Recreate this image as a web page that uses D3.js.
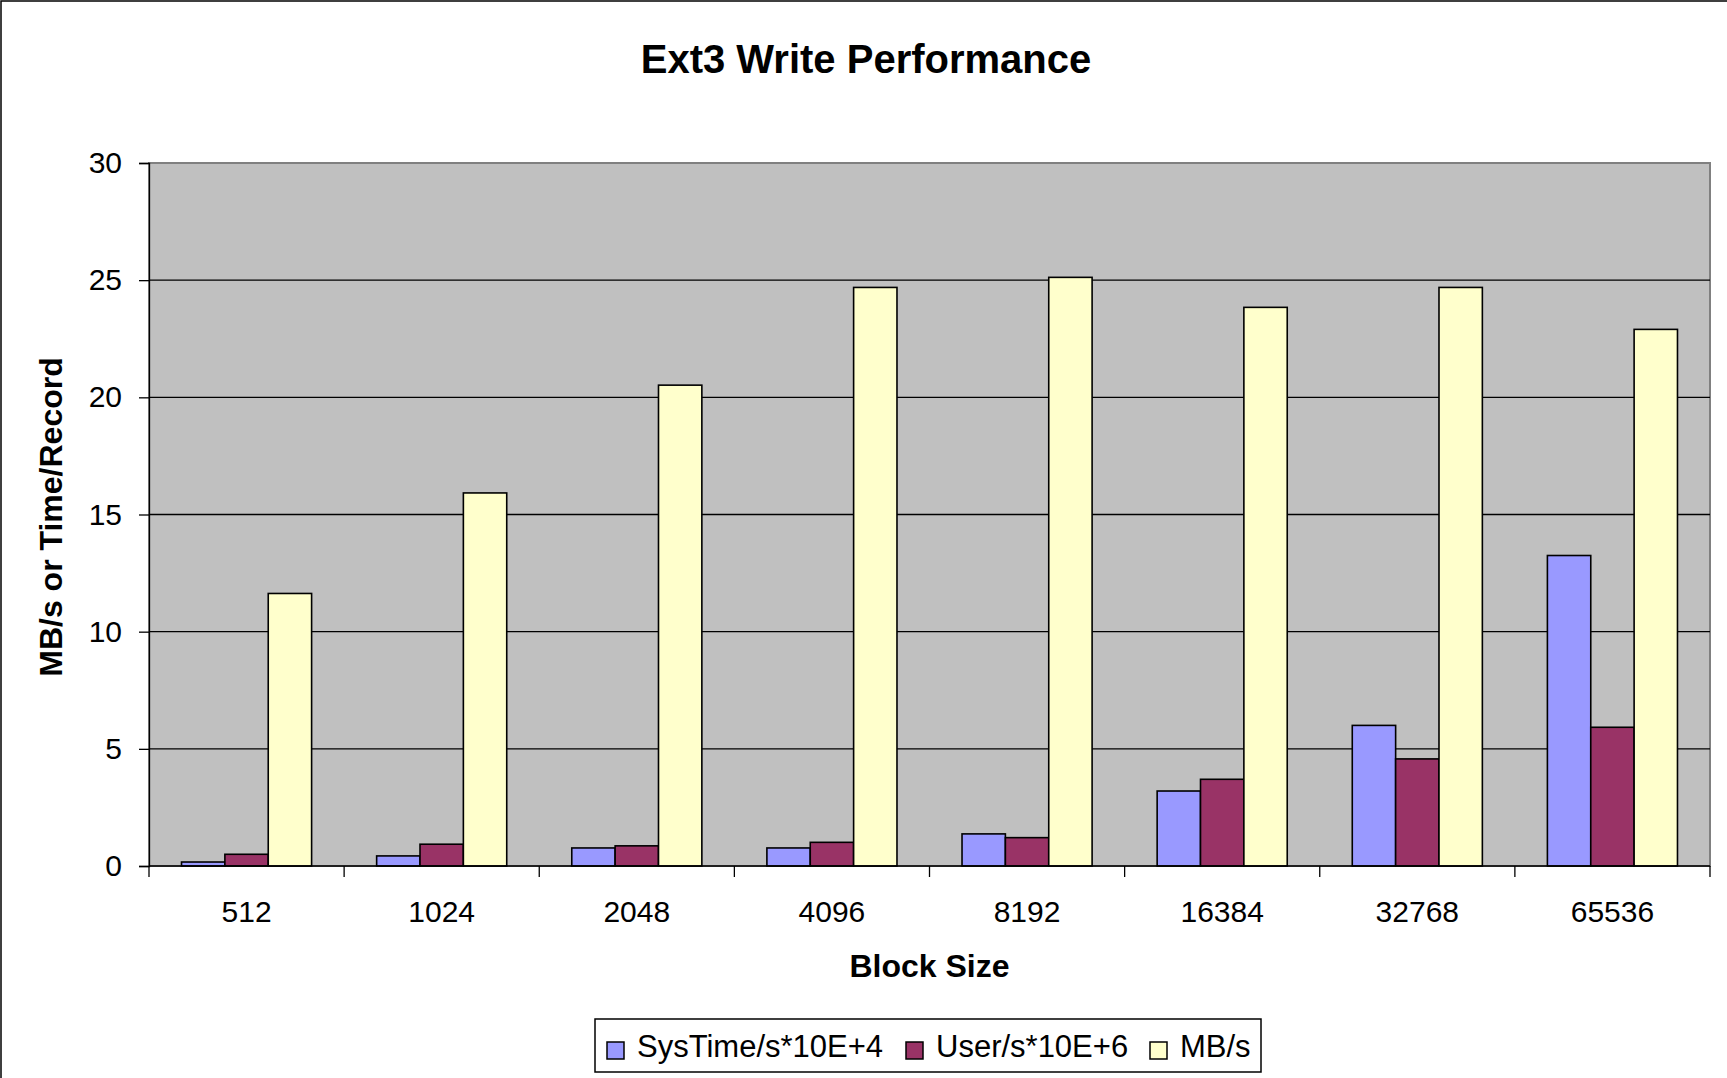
<!DOCTYPE html>
<html>
<head>
<meta charset="utf-8">
<script src="https://cdn.jsdelivr.net/npm/d3@7"></script>
<style>
  html, body { margin: 0; padding: 0; background: #fff; }
  svg { display: block; font-family: "Liberation Sans", Arial, sans-serif; }
</style>
</head>
<body>
<svg id="chart" width="1727" height="1078"></svg>
<script>
// Ext3 write performance
const blockSizes = ['512', '1024', '2048', '4096', '8192', '16384', '32768', '65536'];
const sysTime = [0.17, 0.43, 0.77, 0.77, 1.37, 3.2, 6.0, 13.25];
const userTime = [0.5, 0.93, 0.86, 1.01, 1.21, 3.7, 4.57, 5.92];
const mbPerSec = [11.63, 15.92, 20.52, 24.69, 25.12, 23.84, 24.69, 22.9];
const yTicks = [0, 5, 10, 15, 20, 25, 30];

const seriesNames = ['SysTime/s*10E+4', 'User/s*10E+6', 'MB/s'];
const seriesColors = ['#9999FF', '#993366', '#FFFFCC'];

(function () {
  const W = 1727, H = 1078;
  const plot = { left: 149, right: 1710, top: 163, bottom: 866 };

  const svg = d3.select('#chart');

  // outer chart border (only top/left visible in the picture)
  svg.append('rect')
    .attr('x', 1).attr('y', 1)
    .attr('width', W + 10).attr('height', H + 10)
    .attr('fill', '#fff').attr('stroke', '#000').attr('stroke-width', 1.5);

  const x = d3.scaleBand().domain(blockSizes).range([plot.left, plot.right]);
  const barW = x.bandwidth() / 4.5; // Excel gap width 150%
  const y = d3.scaleLinear().domain([0, 30]).range([plot.bottom, plot.top]);

  // plot background
  svg.append('rect')
    .attr('x', plot.left).attr('y', plot.top)
    .attr('width', plot.right - plot.left).attr('height', plot.bottom - plot.top)
    .attr('fill', '#C0C0C0').attr('stroke', '#808080').attr('stroke-width', 2);

  // gridlines
  svg.append('g')
    .selectAll('line')
    .data(yTicks.filter((t) => t > 0 && t < 30))
    .join('line')
    .attr('x1', plot.left).attr('x2', plot.right)
    .attr('y1', (d) => y(d)).attr('y2', (d) => y(d))
    .attr('stroke', '#000').attr('stroke-width', 1.3);

  // bars
  const series = [sysTime, userTime, mbPerSec];
  series.forEach((vals, si) => {
    svg.append('g')
      .selectAll('rect')
      .data(vals)
      .join('rect')
      .attr('x', (d, i) => x(blockSizes[i]) + barW * 0.75 + si * barW)
      .attr('y', (d) => y(d))
      .attr('width', barW)
      .attr('height', (d) => y(0) - y(d))
      .attr('fill', seriesColors[si])
      .attr('stroke', '#000')
      .attr('stroke-width', 1.6);
  });

  // y axis
  const yAxis = svg.append('g')
    .attr('transform', `translate(${plot.left},0)`)
    .call(d3.axisLeft(y).tickValues(yTicks).tickSize(10).tickPadding(17));
  yAxis.select('.domain').attr('stroke', '#000').attr('stroke-width', 1.3);
  yAxis.selectAll('.tick line').attr('stroke', '#000').attr('stroke-width', 1.3);
  yAxis.selectAll('.tick text')
    .attr('font-size', 30).attr('fill', '#000')
    .attr('font-family', '"Liberation Sans", Arial, sans-serif');

  // x axis: ticks at band boundaries
  const xAxis = svg.append('g').attr('transform', `translate(0,${plot.bottom})`);
  xAxis.append('line')
    .attr('x1', plot.left).attr('x2', plot.right)
    .attr('stroke', '#000').attr('stroke-width', 1.3);
  const bounds = blockSizes.map((b) => x(b)).concat([plot.right]);
  xAxis.selectAll('line.tk')
    .data(bounds)
    .join('line')
    .attr('class', 'tk')
    .attr('x1', (d) => d).attr('x2', (d) => d)
    .attr('y1', 0).attr('y2', 11)
    .attr('stroke', '#000').attr('stroke-width', 1.3);
  xAxis.selectAll('text')
    .data(blockSizes)
    .join('text')
    .attr('x', (d) => x(d) + x.bandwidth() / 2)
    .attr('y', 56)
    .attr('text-anchor', 'middle')
    .attr('font-size', 30)
    .text((d) => d);

  // titles
  svg.append('text')
    .attr('x', 866).attr('y', 73)
    .attr('text-anchor', 'middle')
    .attr('font-size', 40).attr('font-weight', 'bold')
    .text('Ext3 Write Performance');

  svg.append('text')
    .attr('x', (plot.left + plot.right) / 2).attr('y', 977)
    .attr('text-anchor', 'middle')
    .attr('font-size', 32).attr('font-weight', 'bold')
    .text('Block Size');

  svg.append('text')
    .attr('transform', 'translate(62,517) rotate(-90)')
    .attr('text-anchor', 'middle')
    .attr('font-size', 32).attr('font-weight', 'bold')
    .text('MB/s or Time/Record');

  // legend
  const lg = svg.append('g').attr('transform', 'translate(595,1019)');
  lg.append('rect')
    .attr('width', 666).attr('height', 53)
    .attr('fill', '#fff').attr('stroke', '#000').attr('stroke-width', 1.5);
  const itemX = [12, 311, 555];
  seriesNames.forEach((name, i) => {
    lg.append('rect')
      .attr('x', itemX[i]).attr('y', 23)
      .attr('width', 17).attr('height', 17)
      .attr('fill', seriesColors[i]).attr('stroke', '#000').attr('stroke-width', 1.5);
    lg.append('text')
      .attr('x', itemX[i] + 30).attr('y', 38)
      .attr('font-size', 31)
      .text(name);
  });
})();
</script>
</body>
</html>
